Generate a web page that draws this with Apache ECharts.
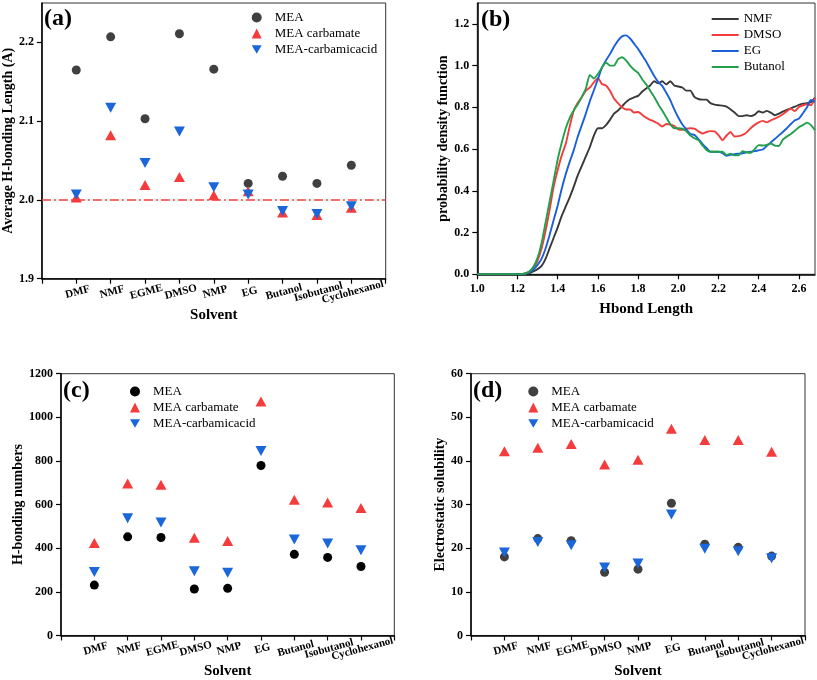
<!DOCTYPE html>
<html><head><meta charset="utf-8">
<script src="https://cdn.jsdelivr.net/npm/echarts@6/dist/echarts.min.js"></script>
<style>html,body{margin:0;padding:0;background:#fff}#c{width:817px;height:680px}</style>
</head><body><div id="c"></div>
<script>
// ---------- data ----------
const solvents = ['DMF','NMF','EGME','DMSO','NMP','EG','Butanol','Isobutanol','Cyclohexanol'];
const seriesNames = ['MEA','MEA carbamate','MEA-carbamicacid'];

// (a) Average H-bonding length
const aMEA       = [2.165, 2.207, 2.103, 2.211, 2.166, 2.021, 2.030, 2.021, 2.044];
const aCarbamate = [2.003, 2.082, 2.019, 2.029, 2.006, 2.011, 1.984, 1.981, 1.990];
const aCarbamic  = [2.007, 2.117, 2.047, 2.087, 2.016, 2.007, 1.986, 1.982, 1.992];
const aRefLine = 2.0;

// (c) H-bonding numbers
const cMEA       = [231, 452, 449, 213, 216, 779, 372, 358, 316];
const cCarbamate = [424, 697, 691, 448, 433, 1073, 622, 610, 584];
const cCarbamic  = [291, 537, 518, 294, 287, 846, 440, 422, 391];

// (d) Electrostatic solubility
const dMEA       = [18.0, 22.2, 21.7, 14.5, 15.2, 30.3, 20.9, 20.2, 18.2];
const dCarbamate = [42.2, 43.0, 43.9, 39.2, 40.3, 47.4, 44.8, 44.8, 42.1];
const dCarbamic  = [19.0, 21.4, 20.7, 15.6, 16.5, 27.7, 19.9, 19.3, 17.7];

// (b) probability density function of Hbond length
const hbondX = [1.00,1.10,1.20,1.22,1.24,1.26,1.28,1.30,1.32,1.34,1.36,1.38,1.40,1.42,1.44,1.46,1.48,1.50,1.52,1.54,1.56,1.58,1.60,1.62,1.64,1.66,1.68,1.70,1.72,1.74,1.76,1.78,1.80,1.82,1.84,1.86,1.88,1.90,1.92,1.94,1.96,1.98,2.00,2.02,2.04,2.06,2.08,2.10,2.12,2.14,2.16,2.18,2.20,2.22,2.24,2.26,2.28,2.30,2.32,2.34,2.36,2.38,2.40,2.42,2.44,2.46,2.48,2.50,2.52,2.54,2.56,2.58,2.60,2.62,2.64,2.66,2.68];
const pdfNMF = [0,0,0,0,0.002,0.006,0.015,0.025,0.04,0.075,0.125,0.175,0.225,0.28,0.325,0.37,0.42,0.475,0.52,0.565,0.61,0.665,0.70,0.70,0.715,0.74,0.77,0.785,0.805,0.825,0.84,0.848,0.855,0.875,0.89,0.905,0.925,0.915,0.925,0.91,0.925,0.905,0.90,0.895,0.88,0.88,0.85,0.84,0.837,0.837,0.82,0.813,0.81,0.808,0.803,0.79,0.775,0.758,0.758,0.762,0.758,0.765,0.781,0.775,0.783,0.775,0.762,0.77,0.78,0.788,0.795,0.803,0.812,0.818,0.82,0.825,0.847];
const pdfDMSO = [0,0,0,0.001,0.005,0.013,0.03,0.065,0.125,0.21,0.31,0.42,0.50,0.57,0.625,0.71,0.785,0.822,0.85,0.88,0.895,0.92,0.94,0.912,0.905,0.88,0.842,0.82,0.80,0.79,0.79,0.775,0.778,0.765,0.75,0.74,0.732,0.722,0.708,0.72,0.718,0.71,0.695,0.693,0.698,0.70,0.698,0.685,0.675,0.682,0.686,0.685,0.667,0.643,0.665,0.682,0.66,0.662,0.668,0.68,0.70,0.716,0.728,0.735,0.728,0.738,0.746,0.755,0.767,0.782,0.794,0.782,0.802,0.81,0.815,0.81,0.845];
const pdfEG = [0,0,0,0,0.003,0.01,0.024,0.045,0.075,0.125,0.19,0.26,0.33,0.41,0.48,0.54,0.595,0.66,0.715,0.77,0.83,0.882,0.935,0.99,1.025,1.055,1.09,1.12,1.14,1.145,1.13,1.105,1.08,1.05,1.02,0.985,0.95,0.922,0.903,0.87,0.835,0.79,0.751,0.718,0.695,0.672,0.668,0.648,0.625,0.605,0.587,0.587,0.587,0.58,0.568,0.572,0.576,0.578,0.58,0.584,0.587,0.59,0.594,0.598,0.615,0.632,0.648,0.665,0.682,0.70,0.72,0.738,0.746,0.772,0.80,0.835,0.826];
const pdfButanol = [0,0,0,0.001,0.005,0.015,0.037,0.08,0.15,0.25,0.35,0.45,0.55,0.63,0.70,0.75,0.785,0.815,0.85,0.89,0.955,0.938,0.96,0.99,1.015,1.0,1.0,1.03,1.04,1.025,1.0,0.98,0.965,0.935,0.91,0.88,0.85,0.815,0.785,0.752,0.72,0.70,0.70,0.698,0.685,0.665,0.652,0.643,0.618,0.596,0.587,0.587,0.587,0.587,0.572,0.578,0.57,0.57,0.59,0.585,0.582,0.60,0.619,0.617,0.62,0.627,0.617,0.615,0.645,0.66,0.672,0.688,0.705,0.715,0.727,0.715,0.69];
const pdfNames = ['NMF','DMSO','EG','Butanol'];

// ---------- styling ----------
const FF = '"Liberation Serif","Times New Roman",serif';
const RED = '#f43c3c', BLUE = '#1a66db', GRAY = '#404040';
const DOWN_TRI = 'path://M0,0L10,0L5,8.66Z';

const grids = [
  {left: 41.3, top: 3, width: 344.4, height: 275.7},
  {left: 477.3, top: 3, width: 337.7, height: 271.3},
  {left: 61, top: 373.7, width: 333.3, height: 268},
  {left: 471, top: 373.7, width: 334, height: 269}
].map(g => Object.assign({show: true, borderColor: '#333', borderWidth: 1, containLabel: false}, g));

const axisLine = {show: true, onZero: false, lineStyle: {color: '#000', width: 1.5}};
const axisTick = {show: true, inside: false, length: 5, lineStyle: {color: '#000', width: 1.2}};
const nameStyle = {fontFamily: FF, fontWeight: 'bold', fontSize: 15, color: '#000'};

function catX(gi, gap) {
  return {
    gridIndex: gi, type: 'value', min: 0, max: 10, interval: 1,
    axisLine, axisTick, splitLine: {show: false},
    axisLabel: {
      formatter: v => (v >= 1 && v <= 9) ? solvents[v - 1] : '',
      rotate: 15, align: 'center', verticalAlign: 'top', margin: 8,
      fontFamily: FF, fontWeight: 'bold', fontSize: 11, color: '#000',
      showMinLabel: true, showMaxLabel: true
    },
    name: 'Solvent', nameLocation: 'middle', nameGap: gap, nameTextStyle: nameStyle
  };
}
function valY(gi, min, max, interval, name, gap, fmt, showMax) {
  return {
    gridIndex: gi, type: 'value', min, max, interval,
    axisLine, axisTick, splitLine: {show: false},
    axisLabel: {formatter: fmt, fontFamily: FF, fontWeight: 'bold', fontSize: 12, color: '#000', margin: 8, showMaxLabel: showMax},
    name, nameLocation: 'middle', nameGap: gap,
    nameTextStyle: Object.assign({}, nameStyle, {fontSize: 14})
  };
}

function scat(name, vals, gi, color, symbol, size) {
  return {
    type: 'scatter', name, xAxisIndex: gi, yAxisIndex: gi,
    data: vals.map((v, i) => [i + 1, v]),
    symbol, symbolSize: size,
    itemStyle: {color, opacity: 1},
    emphasis: {disabled: true}
  };
}
function scatterSet(gi, mea, carb, carbAcid, meaColor) {
  return [
    scat(seriesNames[0], mea, gi, meaColor, 'circle', 9),
    scat(seriesNames[1], carb, gi, RED, 'triangle', [11, 10]),
    scat(seriesNames[2], carbAcid, gi, BLUE, DOWN_TRI, [11, 10])
  ];
}
function scatterLegend(left, top, meaColor) {
  return {
    orient: 'vertical', left, top, itemWidth: 10, itemHeight: 10, itemGap: 3,
    padding: 0, selectedMode: false,
    textStyle: {fontFamily: FF, fontSize: 13, color: '#000', padding: [0, 0, 0, 8], lineHeight: 13},
    data: [
      {name: seriesNames[0], icon: 'circle', itemStyle: {color: meaColor}},
      {name: seriesNames[1], icon: 'triangle', itemStyle: {color: RED}},
      {name: seriesNames[2], icon: DOWN_TRI, itemStyle: {color: BLUE}}
    ]
  };
}

const lineColors = ['#383838', '#f43c3c', '#1a5fdb', '#22a04b'];
const pdfData = [pdfNMF, pdfDMSO, pdfEG, pdfButanol];
const lineSeries = pdfNames.map((n, k) => ({
  type: 'line', name: n, xAxisIndex: 1, yAxisIndex: 1,
  data: hbondX.map((x, i) => [x, pdfData[k][i]]),
  showSymbol: false, smooth: 0.2,
  lineStyle: {color: lineColors[k], width: 1.9},
  itemStyle: {color: lineColors[k]},
  emphasis: {disabled: true}
}));

const sA = scatterSet(0, aMEA, aCarbamate, aCarbamic, GRAY);
sA[0].markLine = {
  silent: true, symbol: 'none', label: {show: false},
  lineStyle: {color: RED, type: [9, 3, 2, 3], width: 1.5},
  data: [{yAxis: aRefLine}]
};

const option = {
  animation: false,
  backgroundColor: '#fff',
  grid: grids,
  title: [
    {text: '(a)', left: 44, top: 7},
    {text: '(b)', left: 481, top: 8},
    {text: '(c)', left: 63, top: 379},
    {text: '(d)', left: 473, top: 379}
  ].map(t => Object.assign(t, {textStyle: {fontFamily: FF, fontWeight: 'bold', fontSize: 24, color: '#000'}, padding: 0})),
  legend: [
    scatterLegend(251.7, 11, GRAY),
    {
      orient: 'vertical', left: 711.7, top: 12, itemWidth: 27, itemHeight: 14, itemGap: 2,
      padding: 0, selectedMode: false,
      textStyle: {fontFamily: FF, fontSize: 13, color: '#000', lineHeight: 14},
      data: pdfNames.map((n, k) => ({name: n, icon: 'path://M0,0L27,0L27,2L0,2Z', itemStyle: {color: lineColors[k]}}))
    },
    scatterLegend(130, 385, '#000'),
    scatterLegend(528.3, 385, GRAY)
  ],
  xAxis: [
    catX(0, 24),
    {
      gridIndex: 1, type: 'value', min: 1.0, max: 2.68, interval: 0.2,
      axisLine, axisTick, splitLine: {show: false},
      axisLabel: {formatter: v => v.toFixed(1), fontFamily: FF, fontWeight: 'bold', fontSize: 12, color: '#000', margin: 9, showMaxLabel: false},
      name: 'Hbond Length', nameLocation: 'middle', nameGap: 27, nameTextStyle: nameStyle
    },
    catX(2, 26),
    catX(3, 26)
  ],
  yAxis: [
    valY(0, 1.9, 2.25, 0.1, 'Average H-bonding Length (A)', 26, v => v.toFixed(1), false),
    valY(1, 0, 1.3, 0.2, 'probability density function', 24, v => v.toFixed(1), false),
    valY(2, 0, 1200, 200, 'H-bonding numbers', 33, v => String(v), true),
    valY(3, 0, 60, 10, 'Electrostatic solubility', 22, v => String(v), true)
  ],
  series: [].concat(
    sA,
    lineSeries,
    scatterSet(2, cMEA, cCarbamate, cCarbamic, '#000'),
    scatterSet(3, dMEA, dCarbamate, dCarbamic, GRAY)
  )
};

const chart = echarts.init(document.getElementById('c'), null, {renderer: 'canvas'});
chart.setOption(option);
</script></body></html>
